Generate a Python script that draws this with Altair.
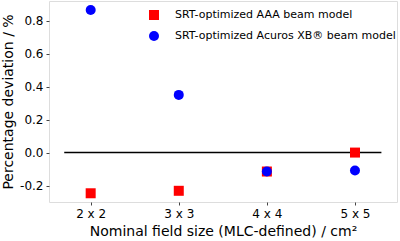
import altair as alt
import pandas as pd

field_sizes = [2, 3, 4, 5]
aaa_values = [-0.247, -0.232, -0.115, 0.0]
acuros_values = [0.865, 0.35, -0.115, -0.109]
series_names = ["SRT-optimized AAA beam model", "SRT-optimized Acuros XB® beam model"]

rows = []
for x, v in zip(field_sizes, aaa_values):
    rows.append({"size": x, "dev": v, "model": series_names[0]})
for x, v in zip(field_sizes, acuros_values):
    rows.append({"size": x, "dev": v, "model": series_names[1]})
df = pd.DataFrame(rows)

zero_df = pd.DataFrame({"x1": [1.7], "x2": [5.3], "y": [0.0]})

font = "DejaVu Sans"
xscale = alt.Scale(domain=[1.527, 5.477], nice=False, zero=False)
yscale = alt.Scale(domain=[-0.30, 0.92], nice=False, zero=False)

xaxis = alt.Axis(values=field_sizes, labelExpr="datum.value + ' x ' + datum.value",
                 title="Nominal field size (MLC-defined) / cm²", grid=False, domain=False,
                 tickSize=3, tickColor="#444", labelFontSize=12, labelPadding=3,
                 titleFontSize=14, titleFontWeight="normal", titlePadding=5,
                 labelColor="black", titleColor="black")
yaxis = alt.Axis(values=[-0.2, 0.0, 0.2, 0.4, 0.6, 0.8],
                 labelExpr="(datum.value < 0 ? '-' : '') + format(abs(datum.value), '.1f')",
                 title="Percentage deviation / %", grid=False, domain=False,
                 tickSize=3, tickColor="#444", labelFontSize=12, labelPadding=3,
                 titleFontSize=14, titleFontWeight="normal", titlePadding=4,
                 labelColor="black", titleColor="black")

zero_line = alt.Chart(zero_df).mark_rule(color="black", strokeWidth=1.5).encode(
    x=alt.X("x1:Q", scale=xscale, axis=xaxis),
    x2="x2:Q",
    y=alt.Y("y:Q", scale=yscale, axis=yaxis),
)

legend = alt.Legend(title=None, orient="none", legendX=99, legendY=8,
                    labelFontSize=11, labelFont=font, symbolSize=100, labelLimit=400,
                    rowPadding=10, labelOffset=15, labelColor="black")

points = alt.Chart(df).mark_point(filled=True, opacity=1, size=100).encode(
    x=alt.X("size:Q", scale=xscale, axis=xaxis),
    y=alt.Y("dev:Q", scale=yscale, axis=yaxis),
    color=alt.Color("model:N", scale=alt.Scale(domain=series_names, range=["#ff0000", "#0000ff"]),
                    legend=legend),
    shape=alt.Shape("model:N", scale=alt.Scale(domain=series_names, range=["square", "circle"]),
                    legend=legend),
    order=alt.Order("model:N"),
)

chart = alt.layer(zero_line, points).properties(
    width=348, height=201,
    autosize=alt.AutoSizeParams(type="none"),
    padding={"left": 49, "top": 1, "right": 3, "bottom": 38},
).configure_view(stroke="#555", strokeWidth=1).configure(
    font=font, background="white"
)

chart.save("out.html", embed_options={"renderer": "svg", "actions": False})
